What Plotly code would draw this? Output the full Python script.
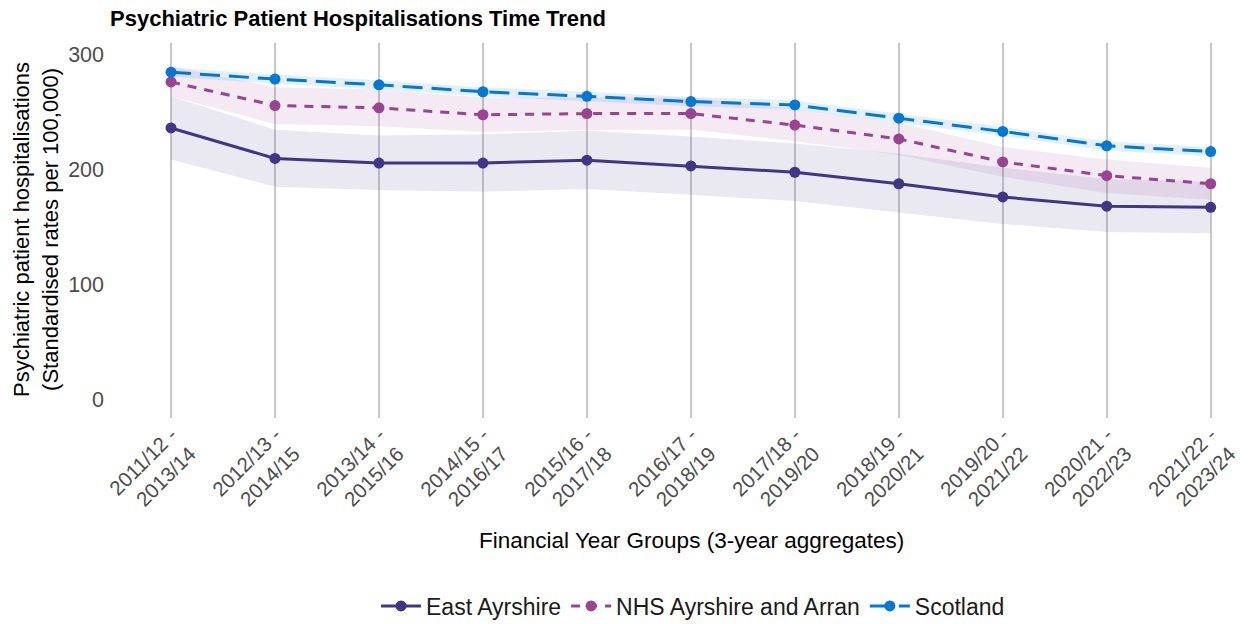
import plotly.graph_objects as go

periods = ["2011/12 -<br>2013/14", "2012/13 -<br>2014/15", "2013/14 -<br>2015/16",
           "2014/15 -<br>2016/17", "2015/16 -<br>2017/18", "2016/17 -<br>2018/19",
           "2017/18 -<br>2019/20", "2018/19 -<br>2020/21", "2019/20 -<br>2021/22",
           "2020/21 -<br>2022/23", "2021/22 -<br>2023/24"]

east_ayrshire = [236.5, 210, 206, 206, 208.5, 203.5, 198, 188, 176.5, 168.5, 167.5]
east_ayrshire_lo = [209, 185.5, 182.5, 181, 183.5, 178.5, 173, 163, 153, 146, 145]
east_ayrshire_hi = [264, 235, 230, 231, 234, 229, 223, 214, 202, 192, 190]

nhs_aa = [276.5, 256, 254, 248, 249, 249, 239, 227, 207, 195, 188]
nhs_aa_lo = [264, 240, 238, 233, 235, 235, 225, 213, 194, 180, 174]
nhs_aa_hi = [290, 272, 270, 263, 263, 263, 253, 241, 220, 209, 202]

scotland = [285, 279, 274, 268, 264, 259.5, 256.5, 245, 233.5, 221, 216]
scotland_lo = [281, 275, 270, 264, 260, 255.5, 252.5, 241, 229.5, 217, 212]
scotland_hi = [289, 283, 278, 272, 268, 263.5, 260.5, 249, 237.5, 225, 220]

series = [
    ("East Ayrshire", east_ayrshire, east_ayrshire_lo, east_ayrshire_hi, "#3F3685", "rgba(63,54,133,0.11)", "solid"),
    ("NHS Ayrshire and Arran", nhs_aa, nhs_aa_lo, nhs_aa_hi, "#9B4393", "rgba(155,67,147,0.11)", "9px,8px"),
    ("Scotland", scotland, scotland_lo, scotland_hi, "#0078D4", "rgba(0,120,212,0.11)", "20px,9px"),
]

# page body has an 8px margin: figure coords = screen coords - 8
OFF = 8
W, H = 1250, 624
L = 110 - OFF
T = 43 - OFF
B = H - (418 - OFF)
R = W - (1245 - OFF)
PW, PH = W - L - R, H - T - B


def px_x(px):
    return (px - OFF - L) / PW


def px_y(py):
    return (H - B - (py - OFF)) / PH


xs = list(range(len(periods)))
fig = go.Figure()

for name, vals, lo, hi, col, fillcol, dash in series:
    fig.add_trace(go.Scatter(
        x=xs + xs[::-1], y=hi + lo[::-1], fill="toself", fillcolor=fillcol,
        line=dict(width=0), mode="lines", showlegend=False, hoverinfo="skip"))

for name, vals, lo, hi, col, fillcol, dash in series:
    fig.add_trace(go.Scatter(
        x=xs, y=vals, name=name, mode="lines+markers",
        line=dict(color=col, width=3, dash=dash),
        marker=dict(color=col, size=11)))

FONT = "Liberation Sans, Arial, sans-serif"

fig.update_layout(
    width=W, height=H,
    margin=dict(l=L, r=R, t=T, b=B, autoexpand=False),
    plot_bgcolor="white", paper_bgcolor="white",
    font=dict(family=FONT, size=22, color="#000000"),
    title=dict(text="<b>Psychiatric Patient Hospitalisations Time Trend</b>",
               x=L / W, xanchor="left", y=1 - 3 / H, yanchor="top",
               font=dict(size=22, color="#000000")),
    legend=dict(orientation="h", x=px_x(693), xanchor="center",
                xref="paper", yref="paper",
                y=px_y(606), yanchor="middle", font=dict(size=23, color="#1a1a1a"),
                itemwidth=40),
    annotations=[
        dict(text="Financial Year Groups (3-year aggregates)", xref="paper", yref="paper",
             x=px_x(691), y=px_y(540), xanchor="center", yanchor="middle",
             showarrow=False, font=dict(size=22.5, color="#000000")),
        dict(text="Psychiatric patient hospitalisations<br>(Standardised rates per 100,000)",
             xref="paper", yref="paper", x=px_x(36), y=px_y(230),
             xanchor="center", yanchor="middle", textangle=-90,
             showarrow=False, font=dict(size=22, color="#000000")),
    ],
)

fig.update_xaxes(
    range=[-0.587, 10.33], tickmode="array", tickvals=xs, ticktext=periods,
    tickangle=-45, showgrid=True, gridcolor="#c8c8c8", gridwidth=1.5,
    zeroline=False, showline=False, ticks="", automargin=False,
    ticklabelstandoff=0,
    tickfont=dict(size=20.5, color="#4d4d4d"),
)

fig.update_yaxes(
    range=[-15.7, 310.4], tickvals=[0, 100, 200, 300], showgrid=False,
    zeroline=False, showline=False, ticks="", ticklabelstandoff=5, automargin=False,
    tickfont=dict(size=21.5, color="#4d4d4d"),
)

fig.write_html("out.html")
